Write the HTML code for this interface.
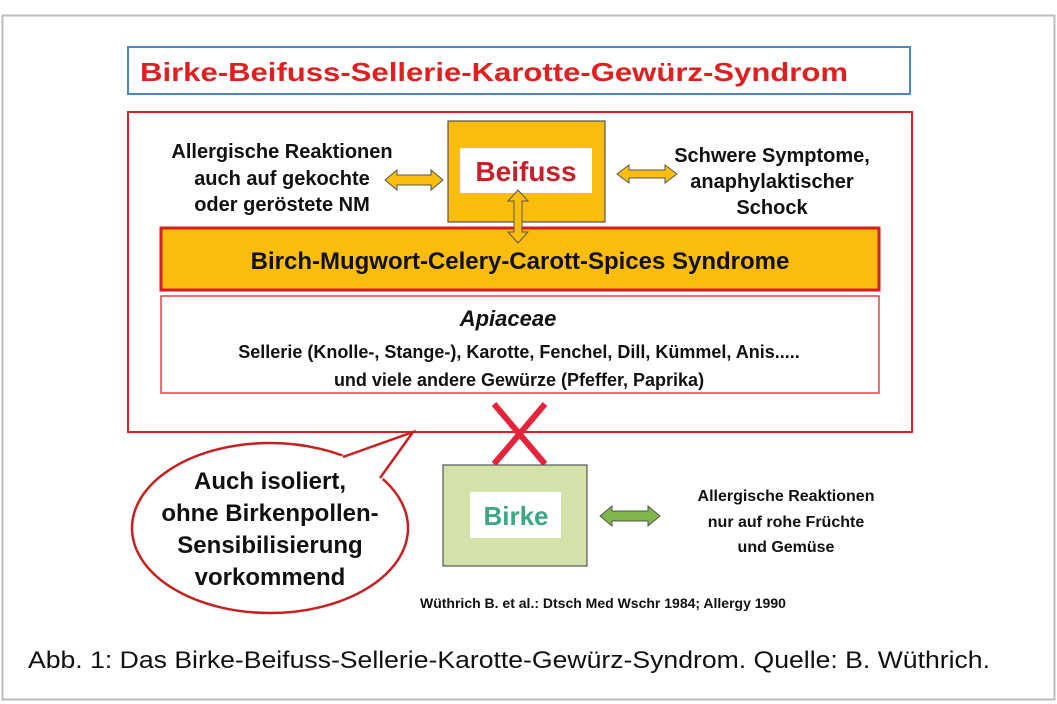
<!DOCTYPE html>
<html><head><meta charset="utf-8"><style>
html,body{margin:0;padding:0;background:#fff;}
svg{display:block;font-family:"Liberation Sans",Arial,sans-serif;}
.b{font-weight:bold;}
</style></head><body>
<svg width="1057" height="704" viewBox="0 0 1057 704">
<rect x="2.5" y="15.5" width="1052" height="684" fill="#fff" stroke="#bdbdbd" stroke-width="2"/>
<!-- title -->
<rect x="128" y="47" width="782" height="47" fill="#fff" stroke="#4a86c8" stroke-width="2"/>
<text x="140" y="81" class="b" font-size="26" fill="#e02020" textLength="708" lengthAdjust="spacingAndGlyphs">Birke-Beifuss-Sellerie-Karotte-Gewürz-Syndrom</text>
<!-- outer red -->
<rect x="128" y="112" width="784" height="320" fill="#fff" stroke="#e02020" stroke-width="2"/>
<!-- beifuss -->
<rect x="448" y="121" width="157" height="101" fill="#fbbd0d" stroke="#555" stroke-width="1.2"/>
<rect x="460" y="148" width="132" height="45" fill="#fff"/>
<text x="526" y="181" text-anchor="middle" class="b" font-size="28" fill="#c8202a">Beifuss</text>
<g class="b" font-size="20" fill="#111" text-anchor="middle">
<text x="282" y="158">Allergische Reaktionen</text>
<text x="282" y="185">auch auf gekochte</text>
<text x="282" y="211">oder geröstete NM</text>
<text x="772" y="162">Schwere Symptome,</text>
<text x="772" y="188">anaphylaktischer</text>
<text x="772" y="214">Schock</text>
</g>
<!-- syndrome bar -->
<rect x="161" y="228" width="718" height="62" fill="#fbbd0d" stroke="#d42020" stroke-width="3"/>
<text x="520" y="269" text-anchor="middle" class="b" font-size="24" fill="#111">Birch-Mugwort-Celery-Carott-Spices Syndrome</text>
<!-- arrows -->
<g fill="#fbbd0d" stroke="#555" stroke-width="1">
<polygon points="385,180 397,170 397,175 431,175 431,170 443,180 431,190 431,185 397,185 397,190"/>
<polygon points="617,174 629,165 629,170 665,170 665,165 677,174 665,183 665,178 629,178 629,183"/>
<polygon points="518,190 528,201 522,201 522,232 528,232 518,243 508,232 514,232 514,201 508,201"/>
</g>
<!-- apiaceae -->
<rect x="161" y="296" width="718" height="97" fill="#fff" stroke="#e84040" stroke-width="1.5"/>
<text x="508" y="326" text-anchor="middle" class="b" font-style="italic" font-size="22" fill="#111">Apiaceae</text>
<text x="519" y="358" text-anchor="middle" class="b" font-size="18" fill="#111">Sellerie (Knolle-, Stange-), Karotte, Fenchel, Dill, Kümmel, Anis.....</text>
<text x="519" y="386" text-anchor="middle" class="b" font-size="18" fill="#111">und viele  andere Gewürze (Pfeffer, Paprika)</text>
<!-- red X -->
<g stroke="#e5233a" stroke-width="6">
<line x1="494" y1="404" x2="545" y2="464"/>
<line x1="545" y1="404" x2="494" y2="464"/>
</g>
<!-- birke -->
<rect x="443" y="465" width="144" height="101" fill="#d3e2a8" stroke="#555" stroke-width="1.2"/>
<rect x="470" y="492" width="91" height="46" fill="#fff"/>
<text x="516" y="525" text-anchor="middle" class="b" font-size="26" fill="#3aa880">Birke</text>
<polygon points="600,516 612,506 612,511 648,511 648,506 660,516 648,526 648,521 612,521 612,526" fill="#7fb84a" stroke="#555" stroke-width="1"/>
<g class="b" font-size="16" fill="#111" text-anchor="middle">
<text x="786" y="501">Allergische Reaktionen</text>
<text x="786" y="527">nur auf rohe Früchte</text>
<text x="786" y="552">und Gemüse</text>
</g>
<!-- bubble -->
<ellipse cx="270" cy="528" rx="138" ry="85" fill="#fff" stroke="#c82020" stroke-width="2.5"/>
<polygon points="341,456 413,432 382,480" fill="#fff" stroke="none"/>
<polyline points="343,457 413,432 380,478" fill="none" stroke="#c82020" stroke-width="2.5"/>
<g class="b" font-size="24" fill="#111" text-anchor="middle">
<text x="270" y="489">Auch isoliert,</text>
<text x="270" y="521">ohne Birkenpollen-</text>
<text x="270" y="553">Sensibilisierung</text>
<text x="270" y="585">vorkommend</text>
</g>
<text x="420" y="608" class="b" font-size="14" fill="#111">Wüthrich B. et al.: Dtsch Med Wschr 1984; Allergy  1990</text>
<text x="28" y="668" font-size="24" fill="#111" textLength="962" lengthAdjust="spacingAndGlyphs">Abb. 1: Das Birke-Beifuss-Sellerie-Karotte-Gewürz-Syndrom. Quelle: B. Wüthrich.</text>
</svg>
</body></html>
